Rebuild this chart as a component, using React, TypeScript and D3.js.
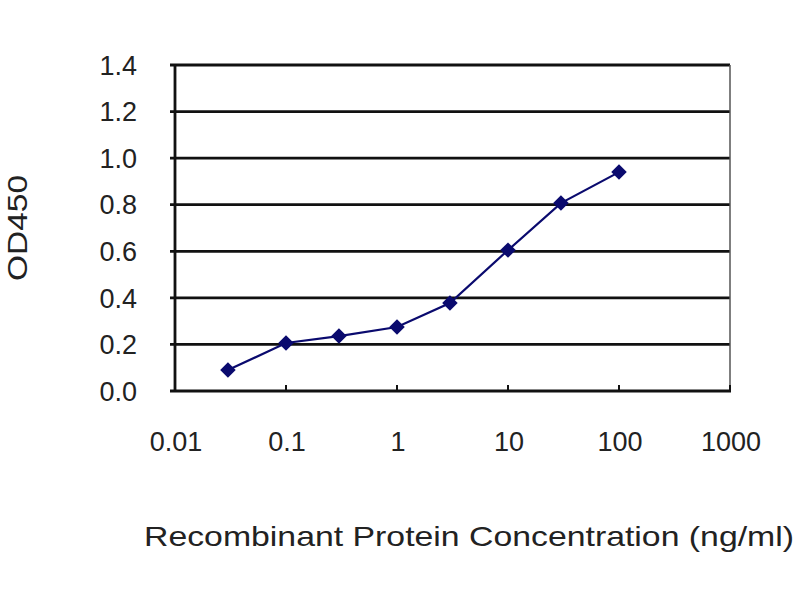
import React from "react";
import * as d3 from "d3";

const concentrations = [0.03, 0.1, 0.3, 1, 3, 10, 30, 100];
const od450 = [0.09, 0.206, 0.236, 0.275, 0.378, 0.605, 0.807, 0.94];
const xTicks = [0.01, 0.1, 1, 10, 100, 1000];
const xTickLabels = ["0.01", "0.1", "1", "10", "100", "1000"];
const yTicks = [0, 0.2, 0.4, 0.6, 0.8, 1.0, 1.2, 1.4];
const yTitle = "OD450";
const xTitle = "Recombinant Protein Concentration (ng/ml)";

export default function App() {
  const W = 800, H = 600;
  const left = 175, right = 730, top = 65, bottom = 391;
  const x = d3.scaleLog().domain([0.01, 1000]).range([left, right]);
  const y = d3.scaleLinear().domain([0, 1.4]).range([bottom, top]);
  const pts = concentrations.map((c, i) => [x(c), y(od450[i])] as [number, number]);
  const line = d3.line()(pts) || "";
  const diamond = d3.symbol().type(d3.symbolSquare).size(120)() || "";
  const font = "'Liberation Sans', Arial, sans-serif";
  const textColor = "#222";

  return (
    <svg width={W} height={H} style={{ position: "absolute", left: 0, top: 0, background: "#fff" }}>
      <rect x={0} y={0} width={W} height={H} fill="#fff" />
      {yTicks.filter((t) => t > 0).map((t) => (
        <line key={t} x1={left - 5} x2={right} y1={y(t)} y2={y(t)} stroke="#111" strokeWidth={2.8} />
      ))}
      <line x1={right} x2={right} y1={top} y2={bottom} stroke="#555" strokeWidth={1.5} />
      <line x1={left} x2={left} y1={top - 1} y2={bottom + 1} stroke="#111" strokeWidth={2.8} />
      <line x1={left - 5} x2={right + 1} y1={bottom} y2={bottom} stroke="#111" strokeWidth={2.8} />
      {xTicks.map((t) => (
        <line key={t} x1={x(t)} x2={x(t)} y1={bottom} y2={bottom - 6} stroke="#111" strokeWidth={2} />
      ))}
      {yTicks.map((t) => (
        <text key={t} x={137} y={y(t)} dy="0.36em" textAnchor="end" fontFamily={font} fontSize={27} fill={textColor}>
          {t.toFixed(1)}
        </text>
      ))}
      {xTicks.map((t, i) => (
        <text key={t} x={x(t) + 1} y={441} dy="0.36em" textAnchor="middle" fontFamily={font} fontSize={27} fill={textColor}>
          {xTickLabels[i]}
        </text>
      ))}
      <path d={line} fill="none" stroke="#0a0a6e" strokeWidth={2.2} />
      {pts.map((p, i) => (
        <path key={i} d={diamond} transform={`translate(${p[0]},${p[1]}) rotate(45)`} fill="#0a0a6e" />
      ))}
      <text
        transform={`translate(27,228) rotate(-90)`}
        textAnchor="middle"
        fontFamily={font}
        fontSize={27}
        fill={textColor}
        textLength={106}
        lengthAdjust="spacingAndGlyphs"
      >
        {yTitle}
      </text>
      <text
        x={469}
        y={546}
        textAnchor="middle"
        fontFamily={font}
        fontSize={28}
        fill={textColor}
        textLength={650}
        lengthAdjust="spacingAndGlyphs"
      >
        {xTitle}
      </text>
    </svg>
  );
}
